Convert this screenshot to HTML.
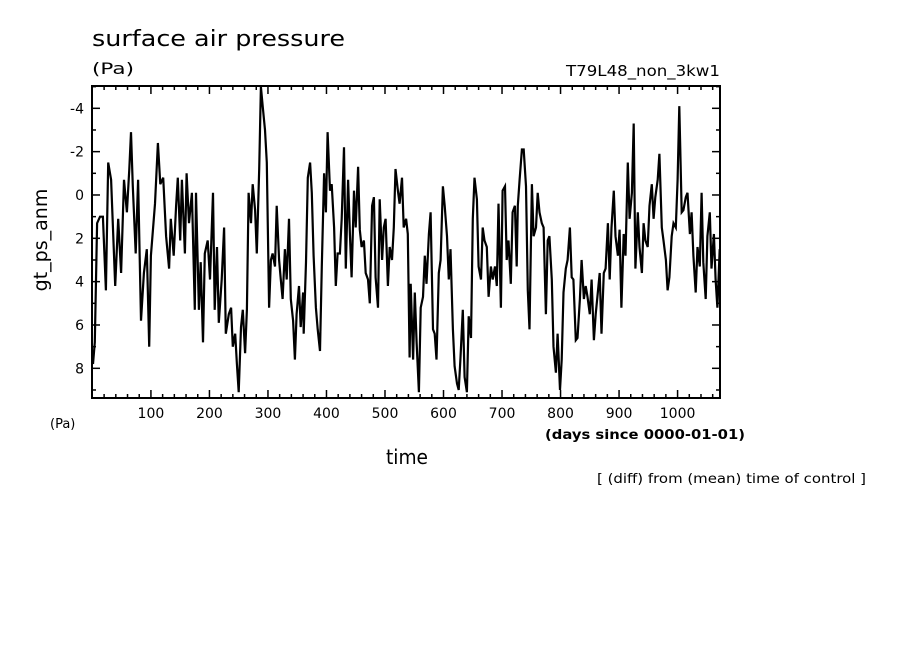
<!DOCTYPE html>
<html><head><meta charset="utf-8"><style>
body{margin:0;background:#fff;width:904px;height:654px;overflow:hidden}
svg{display:block;font-family:"DejaVu Sans","Liberation Sans",sans-serif}
</style></head><body>
<svg id="chart" width="904" height="654">
<text x="92" y="46" font-size="22" textLength="253" lengthAdjust="spacingAndGlyphs">surface air pressure</text>
<text x="92" y="74" font-size="16" textLength="42" lengthAdjust="spacingAndGlyphs">(Pa)</text>
<text x="566" y="76" font-size="15" textLength="154" lengthAdjust="spacingAndGlyphs">T79L48_non_3kw1</text>
<text x="50" y="428" font-size="13">(Pa)</text>
<text x="545" y="439" font-size="13" font-weight="bold" textLength="200" lengthAdjust="spacingAndGlyphs">(days since 0000-01-01)</text>
<text x="386" y="464" font-size="20" textLength="42" lengthAdjust="spacingAndGlyphs">time</text>
<text x="597" y="483" font-size="13" textLength="269" lengthAdjust="spacingAndGlyphs">[ (diff) from (mean) time of control ]</text>
<text transform="translate(47,240) rotate(-90)" font-size="19" text-anchor="middle">gt_ps_anm</text>
<g id="axes"></g>
<path id="series" fill="none" stroke="#000" stroke-width="2.2"></path>
<rect x="92" y="86" width="628" height="312" fill="none" stroke="#000" stroke-width="2"></rect>
</svg>
<script>
const days=[1,4,8,13,18,23,27,32,39,44,49,54,59,63,66,69,74,78,83,88,93,97,100,107,112,116,121,126,131,134,139,143,146,150,153,158,161,165,170,175,177,182,185,189,192,197,201,206,209,213,216,221,225,228,233,237,240,244,247,250,254,257,261,264,267,271,274,278,281,285,288,291,295,298,302,305,308,312,315,319,322,325,329,332,336,339,343,346,349,353,356,360,361,365,368,372,375,378,382,385,389,392,396,399,402,406,409,413,416,419,423,426,430,433,437,440,443,447,450,454,457,460,464,467,471,474,478,481,484,488,491,495,498,501,505,508,512,515,518,522,525,529,532,536,539,542,544,548,551,554,558,561,565,568,571,575,578,582,585,588,592,595,599,602,606,609,612,616,619,623,626,629,633,636,640,643,647,650,653,657,660,664,667,670,674,677,681,684,688,691,694,698,701,705,708,711,715,718,722,725,727,730,734,737,741,744,747,751,754,758,761,764,768,771,775,778,781,785,788,792,795,799,802,805,809,812,816,819,822,826,829,833,836,840,843,846,850,853,857,860,863,867,870,874,877,881,884,887,891,894,898,901,904,908,911,915,918,922,925,928,932,935,939,942,945,949,952,956,959,962,966,969,973,976,980,983,986,990,993,997,1000,1003,1007,1010,1014,1017,1021,1024,1027,1031,1034,1038,1041,1044,1048,1051,1055,1058,1062,1065,1068,1072];
const values=[7.8,6.8,1.3,1.0,1.0,4.4,-1.5,-0.7,4.2,1.1,3.6,-0.7,0.8,-1.2,-2.9,-0.4,2.7,-0.7,5.8,3.6,2.5,7.0,2.8,0.4,-2.4,-0.5,-0.8,1.9,3.4,1.1,2.8,0.5,-0.8,2.1,-0.7,2.7,-1.0,1.3,-0.1,5.3,-0.1,5.3,3.1,6.8,2.7,2.1,3.9,-0.1,5.3,2.4,5.9,3.9,1.5,6.4,5.5,5.2,7.0,6.4,7.8,9.1,6.1,5.3,7.3,5.3,-0.1,1.3,-0.5,0.7,2.7,-1.2,-5.0,-4.1,-3.0,-1.5,5.2,3.0,2.7,3.3,0.5,3.0,3.9,4.8,2.5,3.9,1.1,4.8,5.8,7.6,5.5,4.2,6.1,4.5,6.4,3.1,-0.8,-1.5,-0.1,2.8,5.2,6.2,7.2,3.3,-1.0,0.8,-2.9,-0.2,-0.5,1.5,4.2,2.7,2.7,1.1,-2.2,3.4,-0.7,1.8,3.8,-0.2,1.5,-1.3,1.6,2.4,2.1,3.6,3.9,5.0,0.5,0.1,3.8,5.2,0.2,3.0,1.5,1.1,4.2,2.4,3.0,1.5,-1.2,-0.2,0.4,-0.8,1.5,1.1,1.8,7.5,4.1,7.6,4.5,6.8,9.1,5.2,4.7,2.8,4.1,1.8,0.8,6.2,6.4,7.6,3.6,3.0,-0.4,0.5,1.9,3.9,2.5,6.2,7.9,8.7,9.0,7.5,5.3,8.4,9.1,5.6,6.6,1.1,-0.8,0.2,3.3,3.9,1.5,2.1,2.4,4.7,3.3,3.9,3.3,4.2,0.4,5.2,-0.2,-0.4,3.0,2.1,4.1,0.8,0.5,3.3,0.5,-0.7,-2.1,-2.1,-0.4,4.4,6.2,-0.5,1.9,1.5,-0.1,0.8,1.3,1.5,5.5,2.1,1.9,3.9,7.0,8.2,6.4,9.0,7.6,4.5,3.4,3.0,1.5,3.8,3.9,6.7,6.6,4.8,3.0,4.8,4.2,4.7,5.5,3.9,6.7,5.5,4.7,3.6,6.4,3.6,3.4,1.3,3.9,1.5,-0.2,1.9,2.8,1.6,5.2,1.8,2.8,-1.5,1.1,-0.1,-3.3,3.4,0.8,2.4,3.6,1.3,2.1,2.4,0.5,-0.5,1.1,0.1,-0.7,-1.9,1.5,2.1,3.0,4.4,3.8,1.9,1.3,1.5,-0.7,-4.1,0.8,0.7,0.1,-0.1,1.8,0.8,2.8,4.5,2.4,3.3,-0.1,3.1,4.8,1.9,0.8,3.4,1.8,3.9,5.2,2.5];
const yTicks=[-4,-2,0,2,4,6,8];
const xTicks=[100,200,300,400,500,600,700,800,900,1000];
const X0=92,X1=720,Y0=86,Y1=398,DMIN=-0.7,DMAX=1072.5,VMIN=-5.03,VMAX=9.37;
function xs(d){return X0+(d-DMIN)/(DMAX-DMIN)*(X1-X0);}
function ys(v){return Y0+(v-VMIN)/(VMAX-VMIN)*(Y1-Y0);}
const NS='http://www.w3.org/2000/svg';
const axes=document.getElementById('axes');
function line(x1,y1,x2,y2,name){const l=document.createElementNS(NS,'line');l.setAttribute('x1',x1);l.setAttribute('y1',y1);l.setAttribute('x2',x2);l.setAttribute('y2',y2);l.setAttribute('stroke','#000');l.setAttribute('stroke-width','1.5');


axes.appendChild(l);}
function txt(x,y,s,anchor,name){const t=document.createElementNS(NS,'text');t.setAttribute('x',x);t.setAttribute('y',y);t.setAttribute('font-size','14');t.setAttribute('text-anchor',anchor);t.textContent=s;


axes.appendChild(t);}
for(let v=-5;v<=9;v++){const y=ys(v);const L=(v%2===0)?8:4;line(X0,y,X0+L,y,'y-tick');line(X1,y,X1-L,y,'y-tick-right');}
yTicks.forEach(v=>txt(84,ys(v)+5,String(v),'end','y-tick-label'));
for(let d=20;d<=1060;d+=20){const x=xs(d);const L=(d%100===0)?8:4;line(x,Y1,x,Y1-L,'x-tick');line(x,Y0,x,Y0+L,'x-tick-top');}
xTicks.forEach(d=>txt(xs(d),418,String(d),'middle','x-tick-label'));
let p='';for(let i=0;i<days.length;i++){p+=(i?'L':'M')+xs(days[i]).toFixed(1)+','+ys(values[i]).toFixed(1);}
document.getElementById('series').setAttribute('d',p);
</script>
</body></html>
